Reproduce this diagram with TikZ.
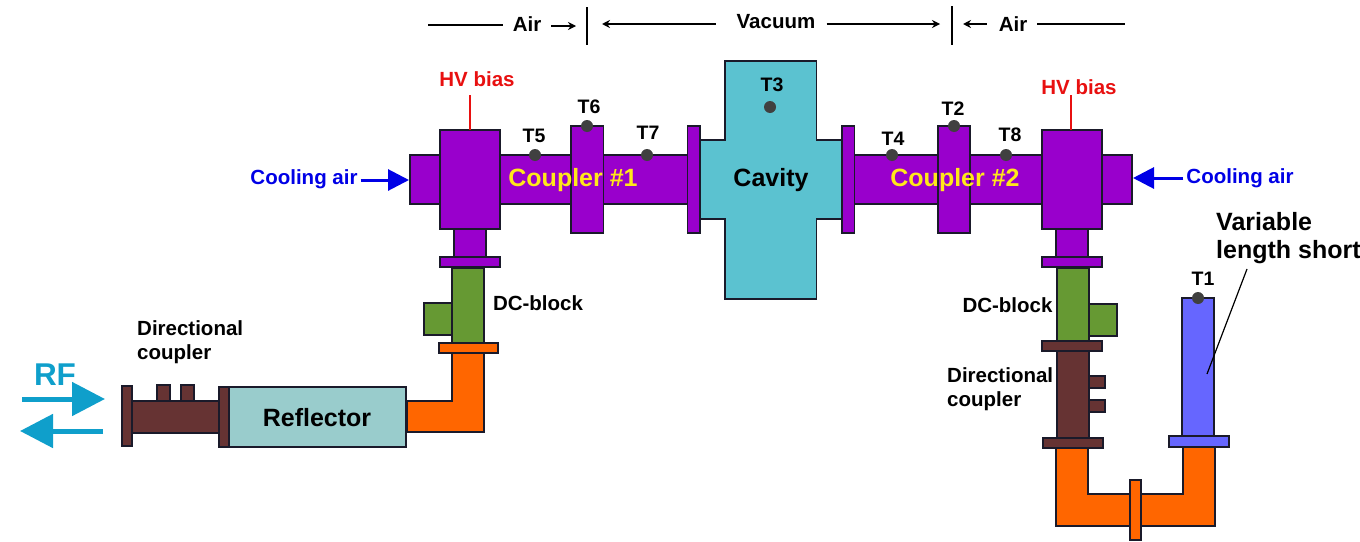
\documentclass[tikz,border=0pt]{standalone}
\usepackage{fontspec}
\setmainfont{Liberation Sans}
\usetikzlibrary{arrows.meta}
\definecolor{purplepipe}{HTML}{9900CC}
\definecolor{cavityblue}{HTML}{5BC2D0}
\definecolor{reflectorblue}{HTML}{99CCCC}
\definecolor{blockgreen}{HTML}{669933}
\definecolor{elbow}{HTML}{FF6600}
\definecolor{couplerbrown}{HTML}{663333}
\definecolor{shortblue}{HTML}{6666FF}
\definecolor{rfblue}{HTML}{0F9FCB}
\definecolor{coolblue}{HTML}{0000E6}
\definecolor{hvred}{HTML}{E81010}
\definecolor{outline}{HTML}{1A1A2A}
\definecolor{coupleryellow}{HTML}{FFE81A}
\tikzset{
  part/.style={draw=outline,line width=1.2pt,fill=#1},
  label/.style={font=\fontsize{20.5}{24}\selectfont\bfseries,inner sep=0pt},
  tag/.style={font=\fontsize{19.5}{24}\selectfont\bfseries,inner sep=0pt},
  big/.style={font=\fontsize{25}{28}\selectfont\bfseries,inner sep=0pt},
  probe/.style={circle,fill=black!75,minimum size=12pt,inner sep=0pt},
  zone/.style={line width=1.2pt},
  zonearrow/.style={zone,-{Stealth[length=8pt,width=8pt]}},
  cool/.style={coolblue,line width=3pt,-{Triangle[length=21pt,width=21pt]}},
  rf/.style={rfblue,line width=5pt,-{Triangle[length=33pt,width=33pt]}},
  hv/.style={hvred,line width=1.8pt}
}
\begin{document}
\begin{tikzpicture}[x=1pt,y=-1pt]
\useasboundingbox (0,0) rectangle (1360,541);
% coupler 1
\draw[part=purplepipe] (410,155) rectangle (688,204);
\draw[part=purplepipe] (440,130) rectangle (500,229);
\draw[part=purplepipe] (571,126) rectangle (603.5,233);
\draw[part=purplepipe] (687.5,126) rectangle (700,233);
\draw[part=purplepipe] (454,229) rectangle (486,257);
\draw[part=purplepipe] (440,257) rectangle (500,267);
% coupler 2
\draw[part=purplepipe] (854,155) rectangle (1132,204);
\draw[part=purplepipe] (1042,130) rectangle (1102,229);
\draw[part=purplepipe] (938,126) rectangle (970,233);
\draw[part=purplepipe] (842,126) rectangle (854.5,233);
\draw[part=purplepipe] (1056,229) rectangle (1088,257);
\draw[part=purplepipe] (1042,257) rectangle (1102,267);
% cavity
\draw[part=cavityblue] (725,61) -- (816.5,61) -- (816.5,140) -- (842,140) -- (842,219)
  -- (816.5,219) -- (816.5,299) -- (725,299) -- (725,219) -- (700,219) -- (700,140) -- (725,140) -- cycle;
% left feed line
\draw[part=blockgreen] (424,303) rectangle (452,335);
\draw[part=blockgreen] (452,268) rectangle (484,343);
\draw[part=elbow] (452,353) -- (484,353) -- (484,432) -- (407,432) -- (407,401) -- (452,401) -- cycle;
\draw[part=elbow] (439,343) rectangle (498,353);
\draw[part=reflectorblue] (229,387) rectangle (406,447);
\draw[part=couplerbrown] (157,385) rectangle (170,401);
\draw[part=couplerbrown] (181,385) rectangle (194,401);
\draw[part=couplerbrown] (132,401) rectangle (219,433);
\draw[part=couplerbrown] (122,386) rectangle (132,446);
\draw[part=couplerbrown] (219,387) rectangle (229,447);
% right feed line
\draw[part=blockgreen] (1089,304) rectangle (1117,336);
\draw[part=blockgreen] (1057,268) rectangle (1089,341);
\draw[part=couplerbrown] (1089,376) rectangle (1105,388);
\draw[part=couplerbrown] (1089,400) rectangle (1105,412);
\draw[part=couplerbrown] (1057,351) rectangle (1089,438);
\draw[part=couplerbrown] (1042,341) rectangle (1102,351);
\draw[part=couplerbrown] (1043,438) rectangle (1103,448);
\draw[part=elbow] (1056,448) -- (1088,448) -- (1088,494) -- (1183,494) -- (1183,447) -- (1215,447)
  -- (1215,526) -- (1056,526) -- cycle;
\draw[part=elbow] (1130,480) rectangle (1141,540);
\draw[part=shortblue] (1182,298) rectangle (1214,436);
\draw[part=shortblue] (1169,436) rectangle (1229,447);
% probes
\node[probe] (p_1) at (1198,298) {};
\node[probe] (p_2) at (954,126) {};
\node[probe] (p_3) at (770,107) {};
\node[probe] (p_4) at (892,155) {};
\node[probe] (p_5) at (535,155) {};
\node[probe] (p_6) at (587,126) {};
\node[probe] (p_7) at (647,155) {};
\node[probe] (p_8) at (1006,155) {};
\node[tag] (t_1) at (1203,279) {T1};
\node[tag] (t_2) at (953,109) {T2};
\node[tag] (t_3) at (772,85) {T3};
\node[tag] (t_4) at (893,139) {T4};
\node[tag] (t_5) at (534,136) {T5};
\node[tag] (t_6) at (589,107) {T6};
\node[tag] (t_7) at (648,133) {T7};
\node[tag] (t_8) at (1010,135) {T8};
% part names
\node[big,coupleryellow] (c_1) at (573,180) {Coupler \#1};
\node[big,coupleryellow] (c_2) at (955,180) {Coupler \#2};
\node[big] (cavity) at (771,180) {Cavity};
\node[big] (reflector) at (317,418) {Reflector};
\node[label] (dc_1) at (538,303) {DC-block};
\node[label] (dc_2) at (1007.5,305) {DC-block};
\node[label,align=left,anchor=west] (dir_1) at (137,342) {Directional\\coupler};
\node[label,align=left,anchor=west] (dir_2) at (947,389) {Directional\\coupler};
\node[big,align=left,anchor=west] (short) at (1216,238.5) {Variable\\length short};
\coordinate (short_in) at (1207,374);
\coordinate (short_out) at (1247,269);
\draw[line width=1.2pt] (short_out) -- (short_in);
% bias
\node[label,hvred] (hv_1) at (477,79) {HV bias};
\node[label,hvred] (hv_2) at (1079,87) {HV bias};
\coordinate (hub_1) at (470,130);
\coordinate (hub_2) at (1071,130);
\draw[hv] (470,95) -- (hub_1);
\draw[hv] (1071,95) -- (hub_2);
% cooling
\node[label,coolblue] (cool_1) at (304,179) {Cooling air};
\node[label,coolblue] (cool_2) at (1240,178) {Cooling air};
\coordinate (stub_1) at (409,180);
\coordinate (stub_2) at (1133,178);
\draw[cool] (cool_1.east) ++(3,1) -- (stub_1);
\draw[cool] (cool_2.west) ++(-3,0) -- (stub_2);
% RF
\node[font=\fontsize{31.5}{34}\selectfont\bfseries,rfblue,inner sep=0pt] (rf) at (55,375) {RF};
\coordinate (rf_a0) at (22,399);
\coordinate (rf_a1) at (105,399);
\coordinate (rf_b0) at (103,431);
\coordinate (rf_b1) at (20,431);
\draw[rf] (rf_a0) -- (rf_a1);
\draw[rf] (rf_b0) -- (rf_b1);
% air and vacuum
\node[label] (air_1) at (527,24) {Air};
\node[label] (vac) at (776,22) {Vacuum};
\node[label] (air_2) at (1013,24) {Air};
\coordinate (wall_1a) at (587,7);
\coordinate (wall_1b) at (587,45);
\coordinate (wall_2a) at (952,6);
\coordinate (wall_2b) at (952,45);
\draw[line width=1.6pt] (wall_1a) -- (wall_1b);
\draw[line width=1.6pt] (wall_2a) -- (wall_2b);
\draw[zone] (air_1.west) ++(-10,1) -- (428,25);
\draw[zonearrow] (air_1.east) ++(10,2) -- (576,26);
\draw[zonearrow] (vac.west) ++(-21,2) -- (602,24);
\draw[zonearrow] (vac.east) ++(11,2) -- (940,24);
\draw[zonearrow] (air_2.west) ++(-12,0) -- (963,24);
\draw[zone] (air_2.east) ++(10,0) -- (1125,24);
\end{tikzpicture}
\end{document}
